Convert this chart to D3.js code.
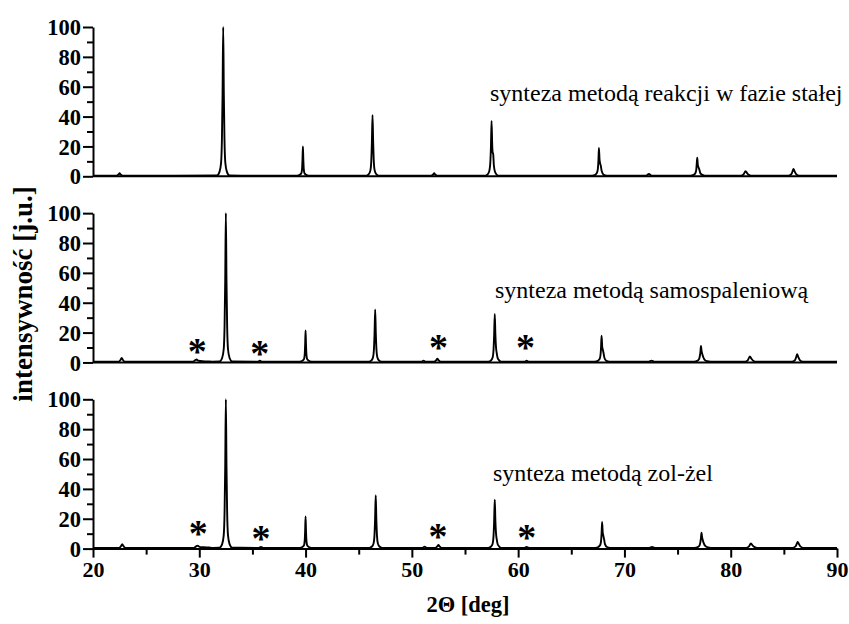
<!DOCTYPE html>
<html lang="pl">
<head>
<meta charset="utf-8">
<script src="https://cdn.jsdelivr.net/npm/d3@7"></script>
</head>
<body style="margin:0">
<svg id="chart" width="849" height="624" font-family="Liberation Serif, Times New Roman, serif" style="display:block;background:#fff"></svg>
<script>
// Tick values
const xTickValues = [20, 25, 30, 35, 40, 45, 50, 55, 60, 65, 70, 75, 80, 85, 90];
const xTickLabels = [20, 30, 40, 50, 60, 70, 80, 90];
const yTickValues = [0, 10, 20, 30, 40, 50, 60, 70, 80, 90, 100];
const yTickLabels = [0, 20, 40, 60, 80, 100];

// Panel captions (top to bottom)
const panelLabels = [
  "synteza metodą reakcji w fazie stałej",
  "synteza metodą samospaleniową",
  "synteza metodą zol-żel"
];

// Diffraction patterns: [2θ, intensity]
const solidState = [
  [20, 0.4],
  [22.2, 0.4], [22.4, 1.2], [22.5, 2], [22.6, 1.2], [22.8, 0.4],
  [31.65, 0.5], [31.9, 3], [32.05, 9], [32.13, 25], [32.19, 55], [32.25, 100], [32.31, 55], [32.37, 25], [32.45, 9], [32.6, 3], [32.85, 0.5],
  [39.2, 0.4], [39.45, 1], [39.6, 2], [39.67, 5], [39.71, 11], [39.75, 20], [39.79, 11], [39.83, 5], [39.9, 2], [40.05, 1], [40.3, 0.4],
  [45.7, 0.4], [45.95, 1.5], [46.1, 4], [46.18, 10], [46.24, 23], [46.3, 41], [46.36, 23], [46.42, 10], [46.5, 4], [46.65, 1.5], [46.9, 0.4],
  [51.8, 0.4], [52.0, 1.2], [52.1, 2], [52.2, 1.2], [52.4, 0.4],
  [56.9, 0.4], [57.15, 1.5], [57.3, 4], [57.38, 9], [57.44, 20], [57.5, 37], [57.56, 21], [57.6, 16], [57.65, 15], [57.72, 7], [57.85, 2.5], [58.15, 0.4],
  [66.95, 0.4], [67.25, 1], [67.42, 2.5], [67.5, 5], [67.55, 10], [67.6, 19], [67.66, 11], [67.72, 8.5], [67.78, 7], [67.86, 3.5], [68.05, 1], [68.35, 0.4],
  [72.0, 0.4], [72.3, 1.5], [72.6, 0.4],
  [76.2, 0.4], [76.5, 0.9], [76.68, 2.2], [76.76, 4.5], [76.8, 8], [76.85, 12.5], [76.9, 8], [76.97, 6], [77.05, 4.5], [77.15, 2], [77.4, 0.8], [77.7, 0.4],
  [80.95, 0.4], [81.2, 1.2], [81.4, 3.5], [81.55, 2], [81.75, 0.8], [82.0, 0.4],
  [85.4, 0.4], [85.7, 1.4], [85.85, 4], [85.9, 5], [86.0, 3.5], [86.15, 1.5], [86.45, 0.4],
  [90, 0.4]
];

const combustion = [
  [20, 0.5],
  [22.4, 0.5], [22.6, 1.8], [22.7, 3], [22.8, 1.8], [23.0, 0.5],
  [29.4, 0.5], [29.6, 1.5], [29.75, 2], [29.9, 1.2], [30.3, 0.8], [30.8, 0.7], [31.2, 0.5],
  [31.9, 0.6], [32.15, 3], [32.3, 9], [32.38, 25], [32.44, 55], [32.5, 100], [32.56, 55], [32.62, 25], [32.7, 9], [32.85, 3], [33.1, 0.6],
  [35.5, 0.5], [35.7, 1.2], [35.9, 0.5],
  [39.45, 0.5], [39.7, 1.1], [39.85, 2.2], [39.92, 5.5], [39.96, 12], [40.0, 21.5], [40.04, 12], [40.08, 5.5], [40.15, 2.2], [40.3, 1.1], [40.55, 0.5],
  [45.95, 0.5], [46.2, 1.4], [46.35, 3.5], [46.43, 8.5], [46.49, 19.5], [46.55, 35.5], [46.61, 19.5], [46.67, 8.5], [46.75, 3.5], [46.9, 1.4], [47.15, 0.5],
  [50.9, 0.5], [51.1, 1.2], [51.3, 0.5],
  [52.1, 0.5], [52.3, 1.5], [52.4, 2.5], [52.5, 1.5], [52.7, 0.5],
  [57.2, 0.5], [57.45, 1.4], [57.6, 3.3], [57.68, 8], [57.74, 18], [57.8, 32.5], [57.86, 18.5], [57.92, 10], [57.98, 6.5], [58.1, 2.5], [58.4, 0.5],
  [60.6, 0.5], [60.8, 1.2], [61.0, 0.5],
  [67.2, 0.5], [67.5, 1.1], [67.67, 2.4], [67.75, 5], [67.8, 10], [67.85, 18], [67.91, 10.5], [67.97, 8.5], [68.03, 6.5], [68.12, 3], [68.3, 1.1], [68.6, 0.5],
  [72.3, 0.5], [72.55, 1.2], [72.8, 0.5],
  [76.55, 0.5], [76.85, 1], [77.02, 2.2], [77.1, 4.5], [77.15, 7], [77.2, 11], [77.26, 7.5], [77.33, 5.5], [77.42, 3.5], [77.55, 1.8], [77.8, 0.8], [78.1, 0.5],
  [81.35, 0.5], [81.6, 1.4], [81.8, 4], [81.95, 2.5], [82.15, 1], [82.4, 0.5],
  [85.75, 0.5], [86.05, 1.6], [86.2, 4.5], [86.25, 5.5], [86.35, 3.8], [86.5, 1.6], [86.8, 0.5],
  [90, 0.5]
];

const solGel = [
  [20, 0.5],
  [22.45, 0.5], [22.65, 1.8], [22.75, 3], [22.85, 1.8], [23.05, 0.5],
  [29.5, 0.5], [29.7, 1.5], [29.85, 2], [30.0, 1.2], [30.4, 0.9], [30.9, 0.7], [31.3, 0.5],
  [31.9, 0.6], [32.15, 3], [32.3, 9], [32.38, 25], [32.44, 55], [32.5, 100], [32.56, 55], [32.62, 25], [32.7, 9], [32.85, 3], [33.1, 0.6],
  [35.6, 0.5], [35.8, 1.1], [36.0, 0.5],
  [39.45, 0.5], [39.7, 1.1], [39.85, 2.2], [39.92, 5.5], [39.96, 12], [40.0, 21.5], [40.04, 12], [40.08, 5.5], [40.15, 2.2], [40.3, 1.1], [40.55, 0.5],
  [46.0, 0.5], [46.25, 1.4], [46.4, 3.5], [46.48, 8.5], [46.54, 19.5], [46.6, 35.7], [46.66, 19.5], [46.72, 8.5], [46.8, 3.5], [46.95, 1.4], [47.2, 0.5],
  [51.0, 0.5], [51.2, 1.2], [51.4, 0.5],
  [52.2, 0.5], [52.4, 1.5], [52.5, 2.5], [52.6, 1.5], [52.8, 0.5],
  [57.2, 0.5], [57.45, 1.4], [57.6, 3.3], [57.68, 8], [57.74, 18], [57.8, 32.8], [57.86, 18.5], [57.92, 10], [57.98, 6.5], [58.1, 2.5], [58.4, 0.5],
  [60.6, 0.5], [60.8, 1.1], [61.0, 0.5],
  [67.25, 0.5], [67.55, 1.1], [67.72, 2.4], [67.8, 5], [67.85, 10], [67.9, 17.8], [67.96, 10.5], [68.02, 8.5], [68.08, 6.5], [68.17, 3], [68.35, 1.1], [68.65, 0.5],
  [72.35, 0.5], [72.6, 1.1], [72.85, 0.5],
  [76.6, 0.5], [76.9, 1], [77.07, 2.2], [77.15, 4.5], [77.2, 7], [77.25, 10.7], [77.31, 7.5], [77.38, 5.5], [77.47, 3.5], [77.6, 1.8], [77.85, 0.8], [78.15, 0.5],
  [81.45, 0.5], [81.7, 1.3], [81.9, 3.5], [82.05, 2.2], [82.25, 1], [82.5, 0.5],
  [85.8, 0.5], [86.1, 1.5], [86.25, 3.8], [86.3, 4.5], [86.4, 3.3], [86.55, 1.5], [86.85, 0.5],
  [90, 0.5]
];

// Impurity-phase markers: [2θ, height of the asterisk centre]
const starsCombustion = [[29.8, 11], [35.7, 9.5], [52.5, 13.5], [60.7, 13.5]];
const starsSolGel = [[29.9, 13.5], [35.8, 10.5], [52.45, 12], [60.8, 11]];

const panels = [
  { data: solidState, label: panelLabels[0], stars: [], labelX: 490, labelY: 101 },
  { data: combustion, label: panelLabels[1], stars: starsCombustion, labelX: 495, labelY: 298 },
  { data: solGel, label: panelLabels[2], stars: starsSolGel, labelX: 493, labelY: 481 }
];

const FONT = "Liberation Serif, Times New Roman, serif";
const svg = d3.select("#chart");
const left = 93, right = 837;
const panelTop0 = 27, panelHeight = 149.3, panelStep = 186.15;

const x = d3.scaleLinear().domain([20, 90]).range([left, right]);

panels.forEach((p, i) => {
  const top = panelTop0 + i * panelStep;
  const y = d3.scaleLinear().domain([0, 100]).range([top + panelHeight, top]);
  const g = svg.append("g");

  // Y axis
  const yAxis = d3.axisLeft(y)
    .tickValues(yTickValues)
    .tickSizeOuter(0)
    .tickSizeInner(10)
    .tickPadding(4)
    .tickFormat(d => yTickLabels.includes(d) ? d : "");
  const ya = g.append("g").attr("transform", `translate(${left},0)`).call(yAxis);
  ya.attr("font-family", FONT).attr("font-size", 22.5).attr("font-weight", "bold");
  ya.select(".domain").attr("stroke", "#000").attr("stroke-width", 2);
  ya.selectAll(".tick line").attr("stroke", "#000").attr("stroke-width", 2)
    .attr("x2", d => yTickLabels.includes(d) ? -10 : -6);
  ya.selectAll(".tick text")
    .attr("x", -12)
    .attr("dy", "0.34em")
    .attr("font-family", FONT)
    .attr("fill", "#000");

  // Baseline / x axis
  if (i < 2) {
    g.append("line")
      .attr("x1", left).attr("x2", right)
      .attr("y1", y(0)).attr("y2", y(0))
      .attr("stroke", "#000").attr("stroke-width", 2);
  } else {
    const xAxis = d3.axisBottom(x)
      .tickValues(xTickValues)
      .tickSizeOuter(0)
      .tickSizeInner(9)
      .tickPadding(8)
      .tickFormat(d => xTickLabels.includes(d) ? d : "");
    const xa = g.append("g").attr("transform", `translate(0,${y(0)})`).call(xAxis);
    xa.attr("font-family", FONT).attr("font-size", 22).attr("font-weight", "bold");
    xa.select(".domain").attr("stroke", "#000").attr("stroke-width", 2);
    xa.selectAll(".tick line").attr("stroke", "#000").attr("stroke-width", 2)
      .attr("y2", d => xTickLabels.includes(d) ? 9 : 6);
    xa.selectAll(".tick text")
      .attr("y", 13)
      .attr("font-family", FONT)
      .attr("fill", "#000");
  }

  // Pattern
  const line = d3.line()
    .x(d => x(d[0]))
    .y(d => y(d[1]))
    .curve(d3.curveMonotoneX);
  g.append("path")
    .datum(p.data)
    .attr("d", line)
    .attr("fill", "none")
    .attr("stroke", "#000")
    .attr("stroke-width", 1.9)
    .attr("stroke-linejoin", "round");

  // Asterisks
  g.selectAll("text.star")
    .data(p.stars)
    .enter().append("text")
    .attr("class", "star")
    .attr("x", d => x(d[0]))
    .attr("y", d => y(d[1]) + 18)
    .attr("text-anchor", "middle")
    .attr("font-family", FONT)
    .attr("font-weight", "bold")
    .attr("font-size", 38)
    .text("*");

  // Caption
  g.append("text")
    .attr("x", p.labelX)
    .attr("y", p.labelY)
    .attr("font-family", FONT)
    .attr("font-size", 24)
    .text(p.label);
});

// Axis titles
svg.append("text")
  .attr("x", (left + right) / 2 + 3)
  .attr("y", 612)
  .attr("text-anchor", "middle")
  .attr("font-family", FONT)
  .attr("font-weight", "bold")
  .attr("font-size", 22.5)
  .text("2Θ [deg]");

svg.append("text")
  .attr("transform", "translate(32,294) rotate(-90)")
  .attr("text-anchor", "middle")
  .attr("font-family", FONT)
  .attr("font-weight", "bold")
  .attr("font-size", 27)
  .text("intensywność [j.u.]");
</script>
</body>
</html>
